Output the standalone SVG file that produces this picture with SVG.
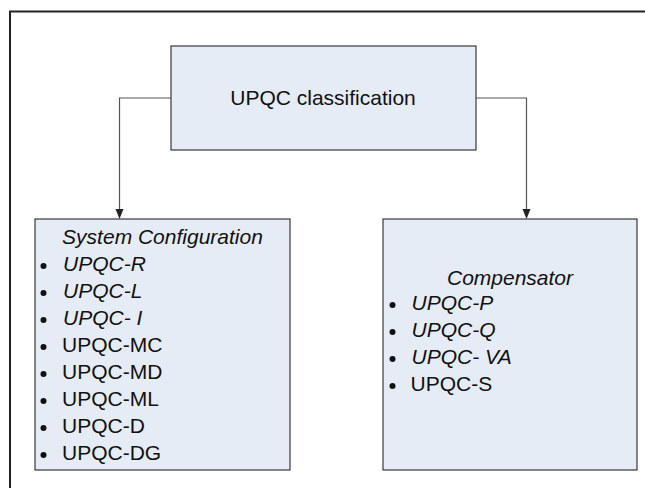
<svg xmlns="http://www.w3.org/2000/svg" width="645" height="488" viewBox="0 0 645 488">
  <defs>
    <marker id="arr" markerWidth="8" markerHeight="10" refX="4" refY="9" orient="auto-start-reverse" markerUnits="userSpaceOnUse" viewBox="0 0 8 10">
      <path d="M0,0 L8,0 L4,10 Z" fill="#222"/>
    </marker>
    <style>
      .box { fill: #E6ECF6; stroke: #3a3a3a; stroke-width: 1.2; }
      .t { font-family: "Liberation Sans", Arial, sans-serif; font-size: 21px; fill: #111; }
      .i { font-style: italic; }
      .b { fill: #111; }
      .conn { fill: none; stroke: #555; stroke-width: 1.2; }
    </style>
  </defs>
  <rect width="645" height="488" fill="#fff"/>
  <path d="M10,490 V11.5 H647" fill="none" stroke="#222" stroke-width="2"/>

  <g id="connectors">
    <path class="conn" d="M171,98 H119.5 V211"/>
    <path d="M115.5,209 L123.5,209 L119.5,219 Z" fill="#222"/>
    <path class="conn" d="M476,98 H526.5 V211"/>
    <path d="M522.5,209 L530.5,209 L526.5,219 Z" fill="#222"/>
  </g>

  <g id="root">
    <rect class="box" x="171" y="46" width="305" height="104"/>
    <text class="t" x="323" y="105" text-anchor="middle">UPQC classification</text>
  </g>

  <g id="system-configuration">
    <rect class="box" x="35" y="219" width="255" height="251"/>
    <text class="t i" x="162.5" y="244" text-anchor="middle">System Configuration</text>
    <circle class="b" cx="43.5" cy="266" r="3"/>
    <text class="t i" x="63" y="271">UPQC-R</text>
    <circle class="b" cx="43.5" cy="293" r="3"/>
    <text class="t i" x="63" y="298">UPQC-L</text>
    <circle class="b" cx="43.5" cy="320" r="3"/>
    <text class="t i" x="63" y="325">UPQC- I</text>
    <circle class="b" cx="43.5" cy="347" r="3"/>
    <text class="t" x="62" y="352">UPQC-MC</text>
    <circle class="b" cx="43.5" cy="374" r="3"/>
    <text class="t" x="62" y="379">UPQC-MD</text>
    <circle class="b" cx="43.5" cy="401" r="3"/>
    <text class="t" x="62" y="406">UPQC-ML</text>
    <circle class="b" cx="43.5" cy="428" r="3"/>
    <text class="t" x="62" y="433">UPQC-D</text>
    <circle class="b" cx="43.5" cy="455" r="3"/>
    <text class="t" x="62" y="460">UPQC-DG</text>
  </g>

  <g id="compensator">
    <rect class="box" x="383" y="219" width="254" height="251"/>
    <text class="t i" x="510" y="285" text-anchor="middle">Compensator</text>
    <circle class="b" cx="392.5" cy="305" r="3"/>
    <text class="t i" x="411.5" y="310">UPQC-P</text>
    <circle class="b" cx="392.5" cy="332" r="3"/>
    <text class="t i" x="411.5" y="337">UPQC-Q</text>
    <circle class="b" cx="392.5" cy="359" r="3"/>
    <text class="t i" x="411.5" y="364">UPQC- VA</text>
    <circle class="b" cx="392.5" cy="386" r="3"/>
    <text class="t" x="410.5" y="391">UPQC-S</text>
  </g>
</svg>
